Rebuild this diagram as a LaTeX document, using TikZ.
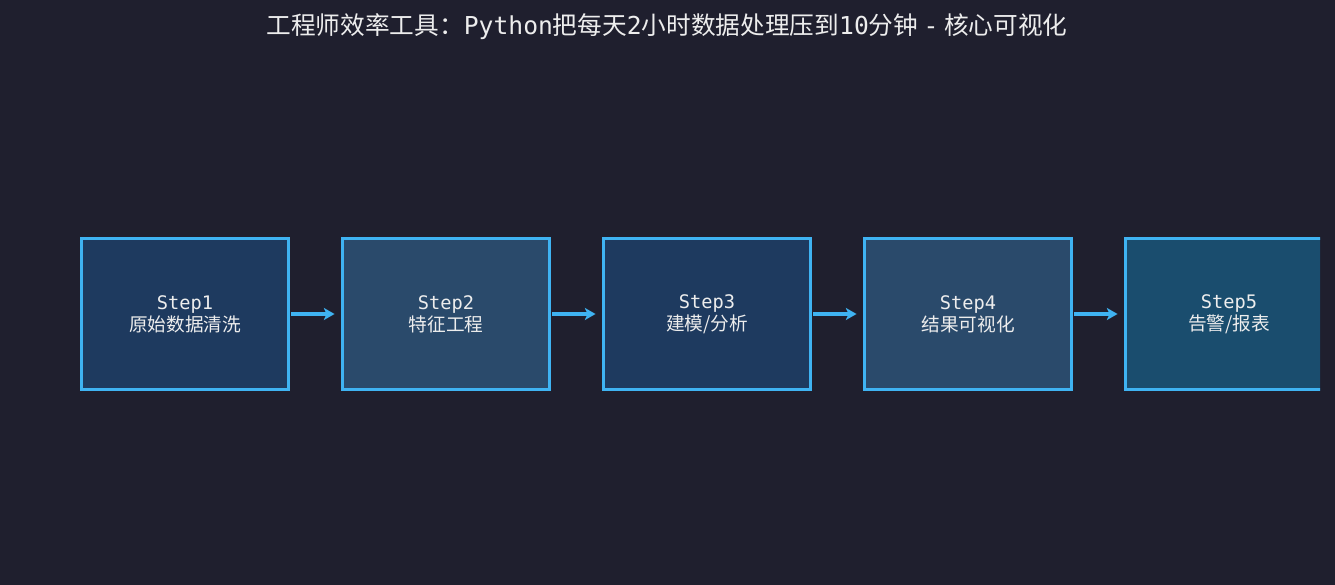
\documentclass[tikz,border=0pt]{standalone}
\usepackage{fontspec}
\setmainfont{Noto Sans CJK SC}
\newfontfamily\lat{DejaVu Sans Mono}
\usetikzlibrary{arrows.meta}
\definecolor{bg}{HTML}{1F1F2E}
\definecolor{fa}{HTML}{1E3A5F}
\definecolor{fb}{HTML}{2A4A6B}
\definecolor{fc}{HTML}{1A4D6E}
\definecolor{bd}{HTML}{3FB3F2}
\definecolor{tx}{HTML}{EDEDED}
\begin{document}
\begin{tikzpicture}[x=0.75pt,y=-0.75pt,
 box/.style={draw=bd,line width=2.2pt,minimum width=155pt,minimum height=113.5pt,inner sep=0pt,text=tx,align=center,font=\fontsize{14}{16.5}\selectfont},
 arr/.style={draw=bd,line width=3pt,-{Stealth[length=8pt,width=9pt,inset=2pt]}}]
\fill[bg] (0,0) rectangle (1335,585);
\useasboundingbox (0,0) rectangle (1335,585);
\node[text=tx,font=\fontsize{18.5}{20}\selectfont] (title) at (667,27) {工程师效率工具：{\lat Python}把每天{\lat 2}小时数据处理压到{\lat 10}分钟 {\lat -} 核心可视化};
\begin{scope}
\clip (0,0) rectangle (1320,585);
\node[box,fill=fa] (s1) at (185,314) {{\lat Step1}\\原始数据清洗};
\node[box,fill=fb] (s2) at (446,314) {{\lat Step2}\\特征工程};
\node[box,fill=fa] (s3) at (707,314) {{\lat Step3}\\建模/分析};
\node[box,fill=fb] (s4) at (968,314) {{\lat Step4}\\结果可视化};
\node[box,fill=fc] (s5) at (1229,314) {{\lat Step5}\\告警/报表};
\end{scope}
\foreach \a/\b in {s1/s2,s2/s3,s3/s4,s4/s5}
 \draw[arr] ([xshift=1pt]\a.east) -- ([xshift=-5pt]\b.west);
\end{tikzpicture}
\end{document}
